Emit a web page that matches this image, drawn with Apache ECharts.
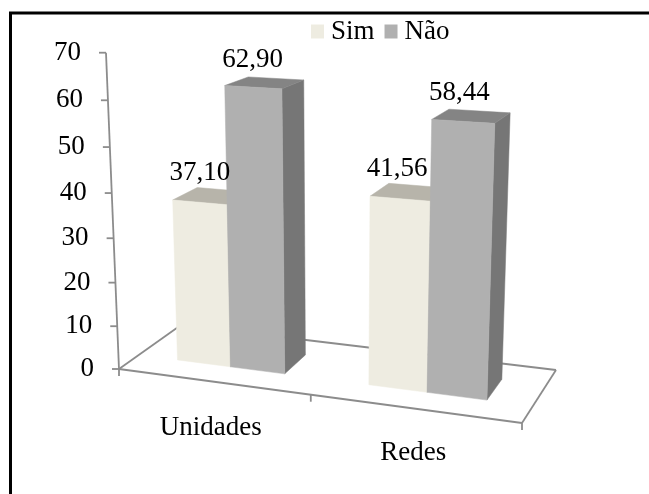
<!DOCTYPE html>
<html><head><meta charset="utf-8">
<style>html,body{margin:0;padding:0;background:#fff}#c{width:649px;height:494px}</style>
<script src="https://cdn.jsdelivr.net/npm/echarts@6/dist/echarts.min.js"></script>
</head><body><div id="c"></div>
<script>
const categories = ['Unidades', 'Redes'];
const simValues = [37.10, 41.56];
const naoValues = [62.90, 58.44];
const yTicks = [0, 10, 20, 30, 40, 50, 60, 70];

const FONT = 'Liberation Serif';
const FS = 27;
const INK = '#000000';
const AXIS = '#8c8c8c';
const G = { left: 119, top: 52, width: 403, height: 317 };
const BOTTOM = G.top + G.height;
const YMAX = 70;

// 3-D look: floor corners expressed as skews of the plot rectangle
const FL = [G.left, BOTTOM];
const FR = [G.left + G.width, BOTTOM + 54];
const BR = [G.left + 437, BOTTOM + 1];
const BL = [G.left + 62, BOTTOM - 44];
const warp = s => 0.908 * s / (1 - 0.092 * s);

function project(px, t, py) {
  const s = warp((px - G.left) / G.width);
  const x = FL[0] * (1 - s) * (1 - t) + FR[0] * s * (1 - t) + BR[0] * s * t + BL[0] * (1 - s) * t;
  const y = FL[1] * (1 - s) * (1 - t) + FR[1] * s * (1 - t) + BR[1] * s * t + BL[1] * (1 - s) * t;
  const h = BOTTOM - py;
  const H = h * (0.936 + 0.0618 * h / G.height) * (1 + 0.00189 * (y - BOTTOM));
  return [x + (x - 337) * H / 5300, y - H];
}
// where a value tick lands on the slanted wall axis
function wallTick(v) {
  const h = G.height * v / YMAX;
  return project(G.left, 0, BOTTOM - h);
}

const yRich = {};
yTicks.forEach(v => {
  const p = wallTick(v);
  const shift = p[1] - (BOTTOM - G.height * v / YMAX);
  yRich['t' + v] = {
    fontFamily: FONT, fontSize: FS, color: INK,
    padding: [shift > 0 ? 2 * shift : 0, G.left - p[0], shift < 0 ? -2 * shift : 0, 0]
  };
});

const xRich = {
  c0: { fontFamily: FONT, fontSize: FS, color: INK, padding: [0, 18, 0, 0] },
  c1: { fontFamily: FONT, fontSize: FS, color: INK, padding: [25, 16, 0, 0] }
};

const FRONT_T = 0.32, BACK_T = 0.72, BAR_FRAC = 0.286;

function barRenderer(side, colors, zBase) {
  return function (params, api) {
    const cat = api.value(0), val = api.value(1);
    const c = api.coord([cat, 0])[0];
    const base = api.coord([cat, 0])[1];
    const top = api.coord([cat, val])[1];
    const w = api.size([1, 0])[0] * BAR_FRAC;
    const x0 = c + side * w, x1 = x0 + w;
    const fb0 = project(x0, FRONT_T, base), fb1 = project(x1, FRONT_T, base);
    const ft0 = project(x0, FRONT_T, top), ft1 = project(x1, FRONT_T, top);
    const bb1 = project(x1, BACK_T, base);
    const bt0 = project(x0, BACK_T, top), bt1 = project(x1, BACK_T, top);
    const poly = (pts, fill) => ({
      type: 'polygon', z2: zBase, shape: { points: pts },
      style: { fill: fill, stroke: fill, lineWidth: 0.5 }
    });
    const cx = (ft0[0] + ft1[0] + bt0[0] + bt1[0]) / 4;
    const cy = (ft0[1] + ft1[1] + bt0[1] + bt1[1]) / 4;
    return {
      type: 'group',
      children: [
        poly([ft1, fb1, bb1, bt1], colors.side),
        poly([ft0, ft1, bt1, bt0], colors.top),
        poly([ft0, ft1, fb1, fb0], colors.front),
        {
          type: 'text', z2: 20,
          style: {
            text: val.toFixed(2).replace('.', ','),
            x: cx - 12, y: cy - 23, align: 'center', verticalAlign: 'middle',
            fontFamily: FONT, fontSize: FS, fill: INK
          }
        }
      ]
    };
  };
}

function frameRenderer(params, api) {
  const line = (a, b) => ({
    type: 'line', shape: { x1: a[0], y1: a[1], x2: b[0], y2: b[1] },
    style: { stroke: AXIS, lineWidth: 1.8 }
  });
  const pts = [line(FL, FR), line(FR, BR), line(BR, BL), line(BL, FL), line(wallTick(0), wallTick(YMAX))];
  yTicks.forEach(v => {
    const p = wallTick(v);
    pts.push(line([p[0] - 7, p[1]], p));
  });
  [0, 0.5, 1].forEach(f => {
    const p = project(G.left + G.width * f, 0, BOTTOM);
    pts.push(line(p, [p[0], p[1] + 7]));
  });
  return { type: 'group', children: pts };
}

const chart = echarts.init(document.getElementById('c'), null, { renderer: 'canvas' });
chart.setOption({
  animation: false,
  backgroundColor: '#ffffff',
  color: ['#EEECE1', '#B0B0B0'],
  grid: { left: G.left, top: G.top, width: G.width, height: G.height, containLabel: false },
  legend: {
    data: ['Sim', 'Não'], left: 306, top: 13, icon: 'rect',
    itemWidth: 13, itemHeight: 14, itemGap: 10,
    textStyle: { fontFamily: FONT, fontSize: FS, color: INK, padding: [0, 0, 0, 2] }
  },
  xAxis: {
    type: 'category', data: categories,
    axisLine: { show: false }, axisTick: { show: false }, splitLine: { show: false },
    axisLabel: {
      margin: 45,
      formatter: (v, i) => '{c' + i + '|' + v + '}',
      rich: xRich
    }
  },
  yAxis: {
    type: 'value', min: 0, max: YMAX, interval: 10,
    axisLine: { show: false }, axisTick: { show: false }, splitLine: { show: false },
    axisLabel: {
      margin: 25,
      formatter: v => '{t' + v + '|' + v + '}',
      rich: yRich
    }
  },
  graphic: [
    { type: 'line', silent: true, shape: { x1: 10.5, y1: 13, x2: 10.5, y2: 494 }, style: { stroke: '#000', lineWidth: 3 } },
    { type: 'line', silent: true, shape: { x1: 9, y1: 13, x2: 649, y2: 13 }, style: { stroke: '#000', lineWidth: 3 } }
  ],
  series: [
    {
      name: 'axes', type: 'custom', silent: true, z: 1, data: [[0, 0]],
      renderItem: frameRenderer, encode: { x: 0, y: 1 }, clip: false
    },
    {
      name: 'Sim', type: 'custom', z: 2, clip: false, encode: { x: 0, y: 1 },
      itemStyle: { color: '#EEECE1' },
      data: simValues.map((v, i) => [i, v]),
      renderItem: barRenderer(-1, { front: '#EEECE1', top: '#B7B4AA', side: '#9a988f' }, 1)
    },
    {
      name: 'Não', type: 'custom', z: 2, clip: false, encode: { x: 0, y: 1 },
      itemStyle: { color: '#B0B0B0' },
      data: naoValues.map((v, i) => [i, v]),
      renderItem: barRenderer(0, { front: '#B0B0B0', top: '#848484', side: '#767676' }, 2)
    }
  ]
});
</script></body></html>
